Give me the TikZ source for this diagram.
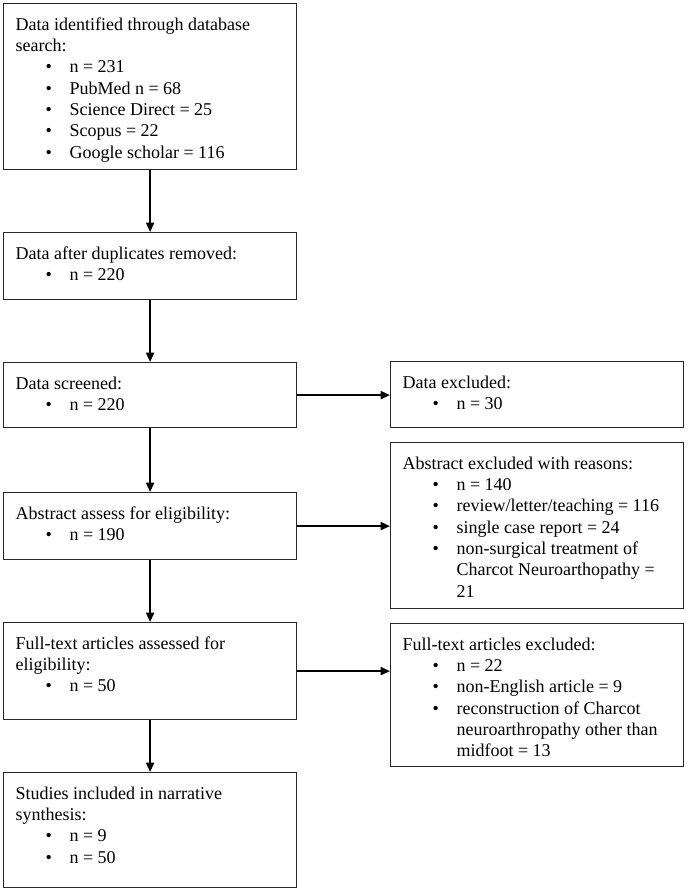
\documentclass[tikz,border=0pt]{standalone}
\usepackage{fontspec}
\setmainfont{Liberation Serif}
\usetikzlibrary{arrows.meta}
\newcommand\bxt[2]{\parbox[c][#1][t]{201.75pt}{\fontsize{13.5pt}{16pt}\selectfont\raggedright #2}}
\newcommand\hd[1]{\rule{0pt}{20pt}#1}
\newcommand\hl[1]{\par #1}
\newcommand\itm[1]{\par\hspace*{22.5pt}\makebox[18pt][l]{\textbullet}#1}
\newcommand\cnt[1]{\par\hspace*{40.5pt}#1}
\begin{document}
\begin{tikzpicture}[x=0.75pt,y=-0.75pt,
  box/.style={draw=black!85, line width=0.9pt, inner xsep=9pt, inner ysep=0pt, anchor=north west, rectangle},
  arr/.style={-{Triangle[length=7pt,width=6pt]}, line width=1.4pt}]
\useasboundingbox[fill=white] (0,0) rectangle (688,890);

\node[box] (b1) at (3,3) {\bxt{124.5pt}{\hd{Data identified through database}\hl{search:}\itm{n = 231}\itm{PubMed n = 68}\itm{Science Direct = 25}\itm{Scopus = 22}\itm{Google scholar = 116}}};
\node[box] (b2) at (3,232) {\bxt{50.25pt}{\hd{Data after duplicates removed:}\itm{n = 220}}};
\node[box] (b3) at (3,362) {\bxt{48.75pt}{\hd{Data screened:}\itm{n = 220}}};
\node[box] (b4) at (3,492) {\bxt{50.25pt}{\hd{Abstract assess for eligibility:}\itm{n = 190}}};
\node[box] (b5) at (3,622) {\bxt{72.75pt}{\hd{Full-text articles assessed for}\hl{eligibility:}\itm{n = 50}}};
\node[box] (b6) at (3,772) {\bxt{86.25pt}{\hd{Studies included in narrative}\hl{synthesis:}\itm{n = 9}\itm{n = 50}}};

\node[box] (r1) at (390,361) {\bxt{49.5pt}{\hd{Data excluded:}\itm{n = 30}}};
\node[box] (r2) at (390,442) {\bxt{124.5pt}{\hd{Abstract excluded with reasons:}\itm{n = 140}\itm{review/letter/teaching = 116}\itm{single case report = 24}\itm{non-surgical treatment of}\cnt{Charcot Neuroarthopathy =}\cnt{21}}};
\node[box] (r3) at (390,623) {\bxt{107.25pt}{\hd{Full-text articles excluded:}\itm{n = 22}\itm{non-English article = 9}\itm{reconstruction of Charcot}\cnt{neuroarthropathy other than}\cnt{midfoot = 13}}};

\draw[arr] (b1.south) -- (b2.north);
\draw[arr] (b2.south) -- (b3.north);
\draw[arr] (b3.south) -- (b4.north);
\draw[arr] (b4.south) -- (b5.north);
\draw[arr] (b5.south) -- (b6.north);
\draw[arr] (b3.east) -- (b3.east -| r1.west);
\draw[arr] (b4.east) -- (b4.east -| r2.west);
\draw[arr] (b5.east) -- (b5.east -| r3.west);
\end{tikzpicture}
\end{document}
